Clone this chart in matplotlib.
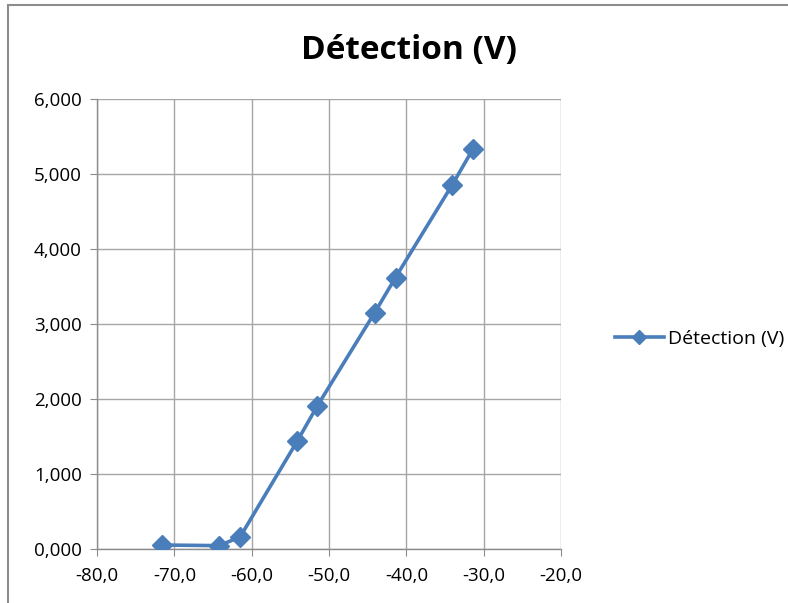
import matplotlib.pyplot as plt
from matplotlib.patches import Rectangle
from matplotlib.ticker import FuncFormatter, MultipleLocator

# Data
puissance = [-71.6, -64.2, -61.5, -54.1, -51.5, -44.1, -41.4, -34.1, -31.4]
detection = [0.053, 0.045, 0.16, 1.44, 1.91, 3.15, 3.62, 4.85, 5.33]

plt.rcParams['font.family'] = ['Open Sans', 'DejaVu Sans']

fig = plt.figure(figsize=(7.88, 6.03), dpi=100)
ax = fig.add_axes([97 / 788, 1 - 549 / 603, (561 - 97) / 788, (549 - 99) / 603])

blue = '#4A7EBB'
ax.plot(puissance, detection, color=blue, linewidth=2.6, marker='D',
        markersize=10, label='Détection (V)', zorder=3)

ax.set_xlim(-80, -20)
ax.set_ylim(0, 6)
ax.xaxis.set_major_locator(MultipleLocator(10))
ax.yaxis.set_major_locator(MultipleLocator(1))
ax.xaxis.set_major_formatter(FuncFormatter(lambda v, p: f'{v:.1f}'.replace('.', ',')))
ax.yaxis.set_major_formatter(FuncFormatter(lambda v, p: f'{v:.3f}'.replace('.', ',')))

ax.grid(True, color='#A6A6A6', linewidth=1)
ax.set_axisbelow(True)
for side in ['top', 'right']:
    ax.spines[side].set_visible(False)
for side in ['left', 'bottom']:
    ax.spines[side].set_color('#8C8C8C')
    ax.spines[side].set_linewidth(1)
ax.tick_params(colors='#8C8C8C', labelcolor='black', labelsize=13.5, length=5)
ax.tick_params(axis='x', pad=8)
ax.tick_params(axis='y', pad=6)

fig.text(409 / 788, 1 - 50 / 603, 'Détection (V)', ha='center', va='center',
         fontsize=24, fontweight='bold')

fig.legend(loc='center left', bbox_to_anchor=(615 / 788, 1 - 339 / 603),
           frameon=False, fontsize=14, handlelength=2.5, handletextpad=0.2,
           markerscale=0.7, borderaxespad=0, borderpad=0)

# outer chart frame
fig.patches.append(Rectangle((8 / 788, -0.1), 1.1, 1 - 5 / 603 + 0.1,
                             transform=fig.transFigure, fill=False,
                             edgecolor='#8C8C8C', linewidth=1.5))

fig.savefig('out.png', dpi=100)
